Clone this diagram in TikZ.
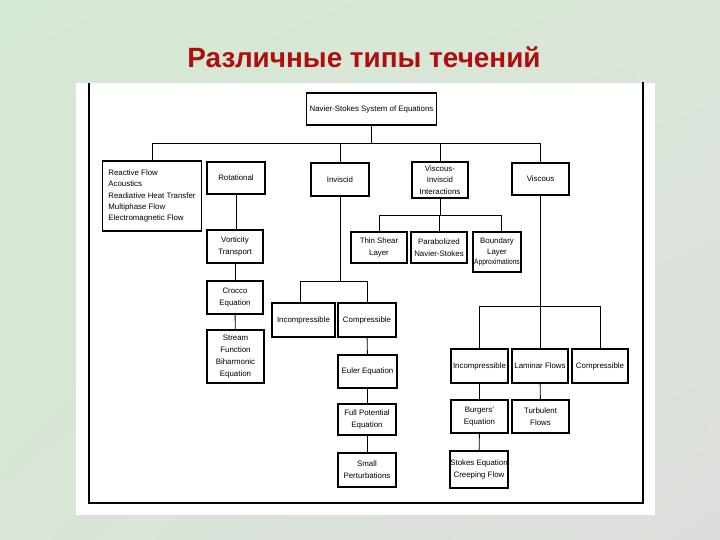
\documentclass[tikz,border=0pt]{standalone}
\usepackage{fontspec}
\setmainfont{Liberation Sans}
\usetikzlibrary{calc,shadings}
\definecolor{bgUL}{RGB}{212,233,210}
\definecolor{bgUR}{RGB}{219,230,217}
\definecolor{bgLL}{RGB}{217,229,215}
\definecolor{bgLR}{RGB}{221,222,220}
\definecolor{titlered}{RGB}{176,14,14}
\tikzset{
  bx/.style={draw=black, line width=1.3bp, fill=white, align=center, inner sep=0pt,
    font=\fontsize{7.9}{11.8}\selectfont},
  ln/.style={draw=black, line width=0.9bp},
  frameline/.style={draw=black, line width=2bp}
}
\begin{document}
\begin{tikzpicture}[x=1bp,y=-1bp]
\useasboundingbox (0,0) rectangle (720,540);
% background
\shade[upper left=bgUL, upper right=bgUR, lower left=bgLL, lower right=bgLR] (0,0) rectangle (720,540);
% title
\node[text=titlered, font=\bfseries\fontsize{28}{32}\selectfont] (title) at (364,57) {Различные типы течений};
% white scanned panel
\fill[white, draw=black!12, line width=0.6bp] (75,82) rectangle (655,515);
\draw[frameline] (89,83) -- (89,503) -- (643,503) -- (643,82);

% nodes
\node[bx, minimum width=131, minimum height=32] (ns) at (371.5,109) {Navier-Stokes System of Equations};
\node[bx, minimum width=100, minimum height=70, align=left, font=\fontsize{7.9}{11.2}\selectfont] (react) at (152,196)
  {Reactive Flow\\Acoustics\\Readiative Heat Transfer\\Multiphase Flow\\Electromagnetic Flow};
\node[bx, minimum width=58, minimum height=32] (rot) at (236,178) {Rotational};
\node[bx, minimum width=58, minimum height=33] (inv) at (340,179.5) {Inviscid};
\node[bx, minimum width=56, minimum height=36] (vii) at (440,180) {Viscous-\\Inviscid\\Interactions};
\node[bx, minimum width=57, minimum height=32] (visc) at (540.5,179) {Viscous};

\node[bx, minimum width=56, minimum height=31] (thin) at (379,247.5) {Thin Shear\\Layer};
\node[bx, minimum width=56, minimum height=31] (para) at (439,247.5) {Parabolized\\Navier-Stokes};
\node[bx, minimum width=48, minimum height=40, font=\fontsize{7.9}{11}\selectfont] (bla) at (497,252) {Boundary\\Layer\\\scalebox{0.84}[1]{Approximations}};

\node[bx, minimum width=56, minimum height=33] (vort) at (235,246.5) {Vorticity\\Transport};
\node[bx, minimum width=56, minimum height=33] (croc) at (235,297.5) {Crocco\\Equation};
\node[bx, minimum width=57, minimum height=53] (strm) at (235.5,356.5) {Stream\\Function\\Biharmonic\\Equation};

\node[bx, minimum width=63, minimum height=34] (inca) at (303.5,320) {Incompressible};
\node[bx, minimum width=58, minimum height=34] (compa) at (367,320) {Compressible};
\node[bx, minimum width=59, minimum height=33] (euler) at (367.5,371.5) {Euler Equation};
\node[bx, minimum width=58, minimum height=31] (fullp) at (367,419.5) {Full Potential\\Equation};
\node[bx, minimum width=58, minimum height=34] (small) at (367,470) {Small\\Perturbations};

\node[bx, minimum width=57, minimum height=34] (incb) at (479.5,366) {Incompressible};
\node[bx, minimum width=56, minimum height=34] (lam) at (540,366) {Laminar Flows};
\node[bx, minimum width=56, minimum height=34] (compb) at (600,366) {Compressible};
\node[bx, minimum width=57, minimum height=33] (burg) at (479.5,416.5) {Burgers'\\Equation};
\node[bx, minimum width=57, minimum height=33] (turb) at (540.5,416.5) {Turbulent\\Flows};
\node[bx, minimum width=58, minimum height=37] (stokes) at (479,469.5) {Stokes Equation\\Creeping Flow};

% bus levels
\coordinate (b1) at (0,143);
\coordinate (b2) at (0,215);
\coordinate (b3) at (0,281);
\coordinate (b4) at (0,306);

% connectors
\draw[ln] (ns.south) -- (ns.south |- b1);
\draw[ln] (react.north) -- (react.north |- b1) -- (visc.north |- b1) -- (visc.north);
\draw[ln] (inv.north) -- (inv.north |- b1);
\draw[ln] (vii.north) -- (vii.north |- b1);

\draw[ln] (vii.south) -- (vii.south |- b2);
\draw[ln] (thin.north) -- (thin.north |- b2) -- ([xshift=4]bla.north |- b2) -- ([xshift=4]bla.north);
\draw[ln] (para.north) -- (para.north |- b2);

\draw[ln] (rot.south) -- (rot.south |- vort.north);
\draw[ln] (vort) -- (croc);
\draw[ln] (croc) -- (strm);

\draw[ln] (inv.south) -- (inv.south |- b3);
\draw[ln] ([xshift=-3]inca.north) -- ([xshift=-3]inca.north |- b3) -- (compa.north |- b3) -- (compa.north);
\draw[ln] (compa) -- (euler);
\draw[ln] (euler.south -| compa) -- (fullp.north -| compa);
\draw[ln] (fullp) -- (small);

\draw[ln] (visc.south) -- (visc.south |- lam.north);
\draw[ln] (incb.north) -- (incb.north |- b4) -- (compb.north |- b4) -- (compb.north);
\draw[ln] (incb) -- (burg);
\draw[ln] (burg) -- (stokes);
\draw[ln] (lam) -- (turb);
\end{tikzpicture}
\end{document}
